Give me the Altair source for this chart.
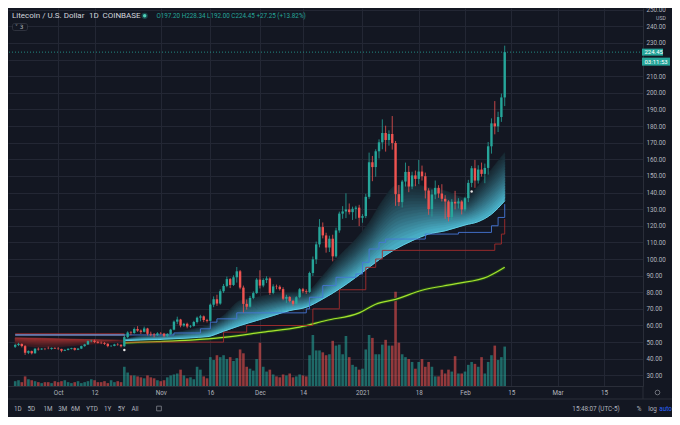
import altair as alt
import pandas as pd

# ---------------- data (day 0 = 2020-10-01, first candle 2020-09-18) ----------------
first_day = -13
opens = [47.2, 48.3, 48.9, 47.6, 43.6, 44.6, 43.3, 46.0, 45.6, 46.1,
         46.0, 45.9, 46.5, 46.1, 45.9, 44.8, 45.3, 46.0, 46.4, 45.4,
         46.1, 47.6, 48.6, 50.6, 50.8, 50.1, 49.6, 49.5, 49.0, 47.6,
         47.7, 48.6, 48.4, 47.5, 53.0, 55.8, 55.5, 57.9, 56.9, 56.2,
         58.2, 55.0, 54.6, 54.2, 55.3, 55.1, 53.8, 54.9, 57.5, 62.3,
         63.6, 60.0, 61.0, 59.4, 59.7, 62.1, 64.7, 65.5, 63.3, 62.8,
         72.5, 75.8, 73.2, 80.6, 83.8, 87.9, 84.4, 89.0, 92.6, 82.8,
         73.0, 71.3, 76.6, 79.5, 87.6, 84.0, 87.3, 88.3, 79.6, 83.5,
         83.3, 81.9, 76.1, 77.2, 74.8, 73.0, 77.0, 81.8, 80.6, 80.2,
         91.6, 99.8, 108.8, 119.2, 114.2, 106.9, 112.2, 101.6, 117.2, 127.3,
         128.6, 129.8, 128.2, 130.2, 130.9, 124.8, 125.8, 137.4, 158.2, 155.3,
         164.8, 170.2, 175.8, 171.6, 175.2, 169.8, 139.0, 134.2, 146.6, 152.4,
         143.6, 150.3, 148.2, 152.6, 149.8, 141.2, 130.0, 138.8, 142.8, 139.4,
         136.2, 134.6, 125.2, 134.4, 133.4, 134.6, 129.8, 136.6, 145.8, 154.6,
         147.2, 153.8, 151.2, 154.8, 167.8, 181.6, 179.8, 185.4, 197.2]
highs = [49.0, 49.6, 49.2, 48.2, 45.0, 44.9, 46.5, 46.8, 46.4, 46.5,
         47.3, 46.8, 46.9, 47.0, 46.0, 45.7, 46.3, 46.6, 46.7, 46.4,
         47.9, 49.0, 51.0, 51.4, 51.5, 50.7, 50.4, 50.0, 49.3, 48.2,
         49.0, 49.4, 48.7, 54.6, 56.5, 56.6, 58.8, 59.6, 57.6, 59.3,
         58.6, 56.3, 55.5, 56.0, 56.0, 55.6, 55.4, 58.0, 63.0, 65.3,
         64.0, 61.6, 61.7, 60.3, 62.8, 65.4, 66.4, 66.0, 64.0, 73.2,
         77.5, 78.5, 81.8, 85.0, 89.4, 88.6, 90.2, 95.2, 93.4, 84.0,
         75.6, 77.8, 80.5, 88.5, 93.2, 88.4, 89.6, 89.0, 84.8, 84.6,
         84.2, 83.0, 78.5, 77.6, 75.2, 77.6, 82.5, 82.6, 81.8, 92.4,
         101.5, 110.5, 124.0, 122.0, 115.8, 114.0, 114.6, 118.8, 128.5, 131.8,
         139.5, 133.4, 131.5, 132.0, 132.6, 127.0, 139.2, 164.0, 162.0, 166.0,
         172.0, 184.0, 180.2, 177.4, 186.0, 171.0, 144.5, 147.6, 158.0, 156.0,
         152.5, 153.2, 159.6, 156.2, 152.0, 142.6, 141.8, 147.2, 144.4, 145.0,
         138.4, 135.4, 136.0, 141.0, 136.6, 135.4, 137.4, 147.6, 156.0, 159.6,
         156.4, 158.0, 157.4, 170.4, 184.6, 195.0, 188.6, 199.5, 228.34]
lows = [46.5, 47.6, 46.8, 42.3, 42.8, 42.6, 43.0, 44.9, 45.3, 45.2,
        45.7, 45.4, 45.9, 45.3, 43.9, 44.6, 45.0, 45.6, 44.9, 45.2,
        45.8, 47.2, 48.3, 49.9, 49.4, 49.2, 48.8, 48.3, 46.9, 47.1,
        47.5, 47.8, 46.8, 47.2, 52.4, 54.3, 55.0, 56.2, 54.9, 55.8,
        54.0, 53.6, 52.8, 53.7, 54.6, 52.8, 53.0, 54.3, 57.1, 60.8,
        58.9, 59.2, 58.3, 58.6, 59.3, 61.2, 62.5, 62.0, 61.8, 62.3,
        71.0, 71.8, 72.5, 79.6, 83.0, 82.5, 83.8, 85.8, 81.8, 67.8,
        69.5, 70.8, 75.8, 79.0, 82.3, 83.0, 85.5, 78.4, 78.8, 81.8,
        81.0, 75.2, 73.6, 73.9, 71.8, 72.6, 76.4, 79.4, 79.0, 79.6,
        89.8, 97.0, 107.0, 112.4, 103.8, 104.2, 98.6, 100.8, 115.8, 124.2,
        124.6, 126.8, 123.5, 124.2, 119.8, 121.8, 124.6, 136.2, 146.8, 149.5,
        160.5, 166.0, 164.6, 168.2, 165.8, 132.0, 131.8, 131.0, 143.6, 140.2,
        142.0, 143.8, 145.0, 147.2, 136.4, 126.6, 125.5, 136.0, 136.8, 134.6,
        124.2, 122.6, 123.4, 129.8, 130.4, 126.8, 128.6, 134.2, 143.2, 142.8,
        145.4, 149.6, 145.6, 150.8, 163.4, 175.0, 176.4, 182.5, 192.0]
closes = [48.3, 48.9, 47.6, 43.6, 44.6, 43.3, 46.0, 45.6, 46.1, 46.0,
          45.9, 46.5, 46.1, 45.9, 44.8, 45.3, 46.0, 46.4, 45.4, 46.1,
          47.6, 48.6, 50.6, 50.8, 50.1, 49.6, 49.5, 49.0, 47.6, 47.7,
          48.6, 48.4, 47.5, 53.0, 55.8, 55.5, 57.9, 56.9, 56.2, 58.2,
          55.0, 54.6, 54.2, 55.3, 55.1, 53.8, 54.9, 57.5, 62.3, 63.6,
          60.0, 61.0, 59.4, 59.7, 62.1, 64.7, 65.5, 63.3, 62.8, 72.5,
          75.8, 73.2, 80.6, 83.8, 87.9, 84.4, 89.0, 92.6, 82.8, 73.0,
          71.3, 76.6, 79.5, 87.6, 84.0, 87.3, 88.3, 79.6, 83.5, 83.3,
          81.9, 76.1, 77.2, 74.8, 73.0, 77.0, 81.8, 80.6, 80.2, 91.6,
          99.8, 108.8, 119.2, 114.2, 106.9, 112.2, 101.6, 117.2, 127.3, 128.6,
          129.8, 128.2, 130.2, 130.9, 124.8, 125.8, 137.4, 158.2, 155.3, 164.8,
          170.2, 175.8, 171.6, 175.2, 169.8, 139.0, 134.2, 146.6, 152.4, 143.6,
          150.3, 148.2, 152.6, 149.8, 141.2, 130.0, 138.8, 142.8, 139.4, 136.2,
          134.6, 125.2, 134.4, 133.4, 134.6, 129.8, 136.6, 145.8, 154.6, 147.2,
          153.8, 151.2, 154.8, 167.8, 181.6, 179.8, 185.4, 197.2, 224.45]
volumes = [5, 6, 4, 10, 7, 6, 5, 4, 3, 4, 4, 3, 5, 4, 5, 6, 4, 3, 4, 5,
           3, 4, 5, 7, 6, 4, 4, 5, 3, 6, 4, 5, 4,
           20, 14, 11, 11, 10, 9, 8, 11, 9, 8, 6, 5, 6, 9, 11, 12, 13, 17, 11, 8, 9, 7,
           20, 17, 10, 8, 30, 27, 32, 30, 32, 28, 30, 26, 29, 38, 34, 20, 18, 16, 28, 45,
           20, 15, 17, 12, 10, 9, 12, 11, 13, 9, 10, 12, 11, 10,
           32, 53, 37, 37, 35, 32, 33, 47, 42, 43, 33, 52, 30, 22, 20, 17, 18, 38, 53, 50,
           33, 33, 43, 48, 42, 42, 98, 45, 33, 30, 28, 25, 18, 25, 28, 20, 25, 20, 10, 10,
           17, 13, 17, 15, 31, 13, 13, 15, 22, 25, 23, 20, 30, 13, 25, 32, 42, 27, 30, 41]

# EMA ribbon
bear_days = [-13, -5, 0, 8, 14, 20]
bear_top = [52.6, 52.3, 52.0, 51.6, 51.3, 51.0]
bear_bot = [48.6, 47.0, 47.2, 48.5, 49.3, 50.8]
rib_days = [20, 25, 30, 35, 40, 45, 50, 55, 60, 65, 70, 75, 80, 85, 90, 94, 98,
            102, 107, 112, 117, 123, 127, 131, 135]
rib_top = [51.5, 53.8, 54.6, 55.6, 57.5, 60.0, 66.0, 75.0, 77.0, 79.0, 80.0, 80.5,
           90.0, 102.0, 112.0, 122.0, 135.0, 144.0, 145.0, 143.0, 141.0, 137.0,
           144.0, 154.0, 164.0]
rib_bot = [51.0, 51.2, 51.5, 51.9, 52.4, 53.2, 56.5, 60.0, 63.0, 66.0, 69.0, 71.0,
           76.0, 82.0, 89.0, 95.0, 101.0, 106.0, 111.0, 115.0, 117.0, 120.5,
           122.5, 127.0, 135.0]

# stepped lines
blue_days = [-13, 20, 35, 43, 46, 48, 54, 75, 76, 80, 84, 90, 92, 94, 97, 99,
             111, 121, 131, 133, 135]
blue_vals = [54.3, 54.3, 55.5, 58.0, 62.0, 64.0, 67.6, 70.0, 77.0, 84.0, 89.0,
             91.0, 98.0, 106.0, 110.0, 112.0, 115.0, 116.0, 120.0, 125.0, 133.0]
red_days = [-13, 20, 50, 57, 77, 85, 93, 96, 98, 132, 134, 135]
red_vals = [55.0, 50.0, 56.0, 60.0, 70.0, 81.5, 95.0, 100.0, 105.2, 109.0, 115.0, 124.0]

# long moving average
green_days = [20, 30, 40, 50, 62, 73, 81, 91, 96, 102, 110, 120, 130, 135]
green_vals = [49.6, 50.3, 51.2, 52.8, 56.0, 59.0, 63.0, 67.6, 72.8, 75.7, 81.2,
              85.0, 89.5, 95.0]

signal_days = [20, 125]
signal_prices = [45.2, 140.6]

last_price = 224.45

tick_days = [0, 11, 31, 46, 61, 74, 92, 109, 123, 137, 151, 165]
tick_labels = ["Oct", "12", "Nov", "16", "Dec", "14", "2021", "18", "Feb", "15", "Mar", "15"]
price_ticks = list(range(30, 260, 10))

range_buttons = ["1D", "5D", "1M", "3M", "6M", "YTD", "1Y", "5Y", "All"]

# ---------------- frames ----------------
n = len(closes)
candles = pd.DataFrame({
    "day": list(range(first_day, first_day + n)),
    "open": opens, "high": highs, "low": lows, "close": closes, "volume": volumes,
})
bear = pd.DataFrame({"day": bear_days, "top": bear_top, "bot": bear_bot})
rib = pd.DataFrame({"day": rib_days, "top": rib_top, "bot": rib_bot})
blue = pd.DataFrame({"day": blue_days, "v": blue_vals})
red = pd.DataFrame({"day": red_days, "v": red_vals})
green = pd.DataFrame({"day": green_days, "v": green_vals})
signals = pd.DataFrame({"day": signal_days, "p": signal_prices})
last = pd.DataFrame({"price": [last_price]})
one = pd.DataFrame({"a": [0]})

# ---------------- style ----------------
BG = "#131722"
GRID = "#232734"
BORDER = "#2a2e39"
UP = "#26a69a"
DOWN = "#ef5350"
TXT = "#b2b5be"
FONT = "Roboto"

W, H = 635, 378
xscale = alt.Scale(domain=[-13.66, 175.3], nice=False, zero=False)
yscale = alt.Scale(domain=[23.6, 251.0], nice=False, zero=False)

label_expr = "".join(f"datum.value == {d} ? '{t}' : " for d, t in zip(tick_days, tick_labels)) + "''"
xaxis = alt.Axis(values=tick_days, labelExpr=label_expr, grid=True, gridColor=GRID,
                 ticks=False, domain=True, domainColor=BORDER, labelColor=TXT,
                 labelFontSize=6.3, labelFont=FONT, labelPadding=3, title=None,
                 labelFlush=False, labelOverlap=False)
yaxis = alt.Axis(orient="right", values=price_ticks,
                 labelExpr="datum.value == 220 ? '' : format(datum.value, '.2f')",
                 grid=True, gridColor=GRID, ticks=False, domain=True, domainColor=BORDER,
                 labelColor=TXT, labelFontSize=6.3, labelFont=FONT, labelPadding=3,
                 title=None, labelFlush=False, labelOverlap=False)


def X(f):
    return alt.X(f, type="quantitative", scale=xscale, axis=xaxis)


def Y(f):
    return alt.Y(f, type="quantitative", scale=yscale, axis=yaxis)


def blend(c1, c2, t):
    a = [int(c1[i:i + 2], 16) for i in (1, 3, 5)]
    b = [int(c2[i:i + 2], 16) for i in (1, 3, 5)]
    return "#" + "".join(f"{round(a[k] + (b[k] - a[k]) * t):02x}" for k in range(3))


updown = alt.condition("datum.close >= datum.open", alt.value(UP), alt.value(DOWN))

# ---------------- volume ----------------
vol = alt.Chart(candles).mark_bar(size=2.6, opacity=0.58, clip=True).encode(
    x=X("day"),
    y=alt.Y("volume:Q", scale=alt.Scale(domain=[0, 393], nice=False), axis=None),
    color=updown,
)

# ---------------- ribbon ----------------
layers = []


def ribbon_layers(df, c_top, c_bot, steps, gamma):
    out = []
    for i in range(steps):
        a, b = max(0.0, i / steps - 0.03), (i + 1) / steps
        col = blend(c_top, c_bot, ((i + 0.5) / steps) ** gamma)
        out.append(
            alt.Chart(df).transform_calculate(
                y1=f"datum.top + (datum.bot - datum.top) * {a}",
                y2=f"datum.top + (datum.bot - datum.top) * {b}",
            ).mark_area(color=col, stroke=col, strokeWidth=0.6, interpolate="monotone",
                        clip=True).encode(x=X("day"), y=Y("y1:Q"), y2="y2:Q")
        )
    return out


layers += ribbon_layers(bear, "#a83434", "#3a1a20", 8, 0.9)
layers += ribbon_layers(rib, "#172731", "#4ab1ca", 18, 1.35)
layers.append(alt.Chart(rib).mark_line(color="#62cfe6", strokeWidth=1, interpolate="monotone",
                                       clip=True).encode(x=X("day"), y=Y("bot")))

# ---------------- lines ----------------
layers.append(alt.Chart(green).mark_line(color="#1f4219", strokeWidth=3.2, interpolate="monotone",
                                         clip=True).encode(x=X("day"), y=Y("v")))
layers.append(alt.Chart(green).mark_line(color="#a6e22e", strokeWidth=1.2, interpolate="monotone",
                                         clip=True).encode(x=X("day"), y=Y("v")))
layers.append(alt.Chart(red).mark_line(color="#a52d2d", strokeWidth=0.9, interpolate="step-after",
                                       clip=True).encode(x=X("day"), y=Y("v")))
layers.append(alt.Chart(blue).mark_line(color="#4677d8", strokeWidth=0.9, interpolate="step-after",
                                        clip=True).encode(x=X("day"), y=Y("v")))
layers.append(alt.Chart(blue).transform_filter("datum.day <= 20").mark_line(
    color="#9ea6d2", strokeWidth=0.9, interpolate="step-after", clip=True).encode(
    x=X("day"), y=Y("v")))

# ---------------- candles ----------------
layers.append(alt.Chart(candles).mark_rule(strokeWidth=0.8, clip=True).encode(
    x=X("day"), y=Y("low"), y2="high", color=updown))
layers.append(alt.Chart(candles).mark_bar(size=2.4, clip=True).encode(
    x=X("day"), y=Y("open"), y2="close", color=updown))
layers.append(alt.Chart(signals).mark_point(shape="circle", filled=True, size=6, color="#e8e8e8",
                                            opacity=1, clip=True).encode(x=X("day"), y=Y("p")))

# ---------------- last price ----------------
layers.append(alt.Chart(last).mark_rule(color=UP, strokeWidth=0.8, strokeDash=[1, 2]).encode(
    y=Y("price")))
layers.append(alt.Chart(last).mark_rule(color=UP, strokeWidth=7).encode(
    x=alt.value(634), x2=alt.value(655), y=Y("price")))
layers.append(alt.Chart(last).mark_rule(color=UP, strokeWidth=8, yOffset=9.5).encode(
    x=alt.value(634), x2=alt.value(662), y=Y("price")))
layers.append(alt.Chart(last).mark_text(color="#ffffff", fontSize=6, font=FONT, align="left",
                                        baseline="middle").encode(
    x=alt.value(636.5), y=Y("price"), text=alt.value("224.45")))
layers.append(alt.Chart(last).mark_text(color="#ffffff", fontSize=6, font=FONT, align="left",
                                        baseline="middle", yOffset=9.5).encode(
    x=alt.value(636.5), y=Y("price"), text=alt.value("03:11:53")))

price_group = alt.layer(*layers)


# ---------------- chrome / texts ----------------
def txt(s, x, y, size=6.3, color=TXT, align="left", font=FONT, weight="normal"):
    return alt.Chart(one).mark_text(fontSize=size, color=color, align=align, baseline="middle",
                                    font=font, fontWeight=weight).encode(
        x=alt.value(x), y=alt.value(y), text=alt.value(s))


chrome = [
    txt("Litecoin / U.S. Dollar", 4, 8, size=8, color="#d1d4dc"),
    txt("1D", 81, 8, size=8, color="#d1d4dc"),
    txt("COINBASE", 94.5, 8, size=8, color="#d1d4dc"),
    alt.Chart(one).mark_point(shape="circle", filled=True, size=40, color=UP, opacity=0.35).encode(
        x=alt.value(136.7), y=alt.value(7.8)),
    alt.Chart(one).mark_point(shape="circle", filled=True, size=12, color="#4fd1b8", opacity=1).encode(
        x=alt.value(136.7), y=alt.value(7.8)),
    txt("O197.20 H228.34 L192.00 C224.45 +27.25 (+13.82%)", 148.4, 8, size=6.3, color=UP),
    alt.Chart(one).mark_rect(fill=BG, stroke="#363a45", strokeWidth=0.8, cornerRadius=2).encode(
        x=alt.value(4.5), x2=alt.value(19.5), y=alt.value(15.5), y2=alt.value(22.5)),
    txt("\u02c5 3", 7, 19.2, size=5.8, color=TXT, font="DejaVu Sans"),
    txt("USD", 653, 9.5, size=5.2, color=TXT, align="center"),
    # borders
    alt.Chart(one).mark_rule(color=BORDER, strokeWidth=1).encode(
        x=alt.value(0), x2=alt.value(664), y=alt.value(391)),
    alt.Chart(one).mark_rule(color=BORDER, strokeWidth=1).encode(
        x=alt.value(635), y=alt.value(378), y2=alt.value(391)),
    alt.Chart(one).mark_point(shape="circle", size=22, color=TXT, strokeWidth=0.8).encode(
        x=alt.value(649.5), y=alt.value(384.5)),
    alt.Chart(one).mark_point(shape="square", size=22, color=TXT, strokeWidth=0.8).encode(
        x=alt.value(151), y=alt.value(400.5)),
    txt("15:48:07 (UTC-5)", 588, 400.5, align="center"),
    txt("%", 631, 400.5, align="center"),
    txt("log", 644.5, 400.5, align="center"),
    txt("auto", 657.5, 400.5, align="center", color="#2962ff"),
]
range_x = [9.8, 23.4, 40.0, 54.7, 67.4, 84.0, 99.6, 113.3, 127.0]
for lab, xv in zip(range_buttons, range_x):
    chrome.append(txt(lab, xv, 400.5, align="center"))

chart = alt.layer(vol, price_group, *chrome).resolve_scale(y="independent").properties(
    width=W, height=H,
    padding={"left": 0, "top": 0, "right": 29, "bottom": 31},
    autosize=alt.AutoSizeParams(type="none"),
    background=BG,
).configure_view(stroke=None)

chart.save("out.html", embed_options={"renderer": "svg", "actions": False})
